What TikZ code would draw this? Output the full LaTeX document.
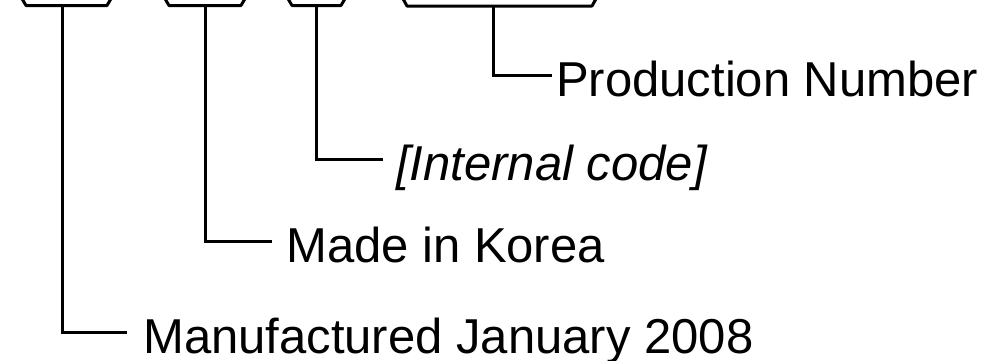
\documentclass[tikz,border=0pt]{standalone}
\usepackage{fontspec}
\setmainfont{Liberation Sans}
\begin{document}
\begin{tikzpicture}[x=1pt,y=-1pt,
  bracketline/.style={draw=black, line width=3pt, line join=round},
  conn/.style={draw=black, line width=3pt},
  lbl/.style={anchor=west, inner sep=0pt, text height=42pt, text depth=0pt,
    font=\fontsize{49}{55}\selectfont}]
\useasboundingbox (0,0) rectangle (993,360);
\clip (0,0) rectangle (993,360);
% brackets (bottom parts of the boxes, cut by the top edge)
\draw[bracketline] (21,-3) -- (26,5.5) -- (107,5.5) -- (112,-3);
\draw[bracketline] (164,-3) -- (169,5.5) -- (241,5.5) -- (246,-3);
\draw[bracketline] (287,-3) -- (292,5.5) -- (341,5.5) -- (346,-3);
\draw[bracketline] (402,-3) -- (407,6) -- (592,6) -- (597,-3);
\coordinate (s1) at (62,5.5);
\coordinate (s2) at (205,5.5);
\coordinate (s3) at (316,5.5);
\coordinate (s4) at (493,6);
% labels
\node[lbl] (t4) at (556,75) {Production Number};
\node[lbl] (t3) at (396,159) {\itshape [Internal code]};
\node[lbl] (t2) at (286,241) {Made in Korea};
\node[lbl] (t1) at (143,332) {Manufactured January 2008};
% connectors
\draw[conn] (s4) |- ([xshift=-4pt]t4.west);
\draw[conn] (s3) |- ([xshift=-13pt]t3.west);
\draw[conn] (s2) |- ([xshift=-14pt]t2.west);
\draw[conn] (s1) |- ([xshift=-16pt]t1.west);
\end{tikzpicture}
\end{document}
